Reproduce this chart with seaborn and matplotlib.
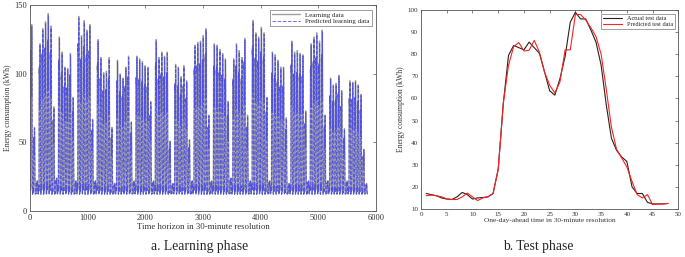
import numpy as np
import pandas as pd
import seaborn as sns
import matplotlib.pyplot as plt

sns.set_theme(style="white")
plt.rcParams['font.family'] = ['Liberation Serif', 'DejaVu Serif']

# ---- test phase (right panel) ----
test_slot = list(range(1, 49))
actual_test = [17, 16.5, 16, 15, 14.5, 14.3, 15.5, 17.5, 16.5, 14.5,
               15, 15.2, 15.5, 17, 28, 58, 79.5, 84, 83, 82,
               85.5, 83, 80.5, 72, 63.5, 61.5, 69, 79, 94.5, 99,
               96, 96, 91, 85.5, 75, 57, 42, 36.5, 33.5, 31.5,
               20, 17, 17, 13, 12.3, 12.3, 12.3, 12.5]
predicted_test = [16, 16.3, 16, 15.5, 14.6, 14.3, 14.3, 15.5, 17.2, 15.5,
                  13.8, 15, 15.5, 17, 28, 58, 75, 83.5, 85.3, 81.5,
                  81.8, 86.3, 81, 72, 66, 62.5, 67.5, 82, 82, 98,
                  98, 95.5, 92, 88, 80, 64, 47, 37, 33, 29,
                  22.5, 16.5, 15, 16.5, 12, 12.2, 12.3, 12.5]

# ---- learning phase (left panel): daily peak of each of the 122 days ----
# first three days (Fri, Sat, Sun), then 17 weeks Mon..Sun
daily_peak = [136, 61, 22,
              122, 133, 138, 144, 135, 76, 24,
              127, 116, 105, 104, 115, 83, 22,
              142, 128, 139, 132, 136, 67, 22,
              125, 112, 101, 102, 112, 61, 20,
              110, 100, 97, 105, 113, 65, 22,
              113, 111, 109, 106, 105, 80, 22,
              125, 112, 116, 113, 116, 51, 20,
              107, 105, 98, 106, 95, 52, 22,
              121, 123, 124, 128, 133, 70, 22,
              122, 121, 118, 115, 111, 80, 24,
              111, 122, 117, 112, 126, 70, 22,
              139, 130, 127, 134, 130, 83, 22,
              116, 114, 110, 105, 105, 68, 20,
              124, 116, 117, 115, 114, 73, 22,
              122, 127, 130, 124, 132, 70, 22,
              97, 92, 93, 99, 88, 60, 22,
              95, 94, 95, 92, 85, 45, 20]
night_base = 12.5

# each day follows the shape of the one-day test profile, scaled to its peak
a = np.array(actual_test)
p = np.array(predicted_test)
shape_a = (a - a.min()) / (a.max() - a.min())
shape_p = (p - a.min()) / (a.max() - a.min())
learn = np.concatenate([night_base + (pk - night_base) * shape_a for pk in daily_peak])
learn_pred = np.concatenate([night_base + (pk - night_base) * shape_p for pk in daily_peak])
df_learn = pd.DataFrame({'t': np.arange(len(learn)), 'actual': learn, 'pred': learn_pred})
df_test = pd.DataFrame({'t': test_slot, 'actual': actual_test, 'pred': predicted_test})

fig = plt.figure(figsize=(6.85, 2.57), dpi=100)
ax1 = fig.add_axes([0.0438, 0.179, 0.505, 0.80])
ax2 = fig.add_axes([0.6146, 0.1868, 0.3757, 0.774])

sns.lineplot(data=df_learn, x='t', y='actual', ax=ax1, color='#a0a0a0', lw=1.0,
             estimator=None, sort=False, label='Learning data')
sns.lineplot(data=df_learn, x='t', y='pred', ax=ax1, color='#3030ff', lw=0.7, alpha=0.7,
             linestyle='--', estimator=None, sort=False, label='Predicted learning data')
ax1.set_xlim(0, 6000)
ax1.set_ylim(0, 150)
ax1.set_xticks(np.arange(0, 6001, 1000))
ax1.set_yticks([0, 50, 100, 150])
ax1.set_xlabel('Time horizon in 30-minute resolution', fontsize=6.3, labelpad=1, color='#333333')
ax1.set_ylabel('Energy consumption (kWh)', fontsize=5.6, labelpad=2, color='#333333')
ax1.legend(loc='upper right', fontsize=5, frameon=True, fancybox=False, edgecolor='#555555',
           borderpad=0.3, handlelength=4, labelspacing=0.1, borderaxespad=0.6)

sns.lineplot(data=df_test, x='t', y='actual', ax=ax2, color='#222222', lw=0.8,
             estimator=None, label='Actual test data')
sns.lineplot(data=df_test, x='t', y='pred', ax=ax2, color='#ff2020', lw=0.8,
             estimator=None, label='Predicted test data')
ax2.set_xlim(0, 50)
ax2.set_ylim(10, 100)
ax2.set_xticks(np.arange(0, 51, 5))
ax2.set_yticks(np.arange(10, 101, 10))
ax2.set_xlabel('One-day-ahead time in 30-minute resolution', fontsize=5.3, labelpad=1, color='#333333')
ax2.set_ylabel('Energy consumption (kWh)', fontsize=5.5, labelpad=2, color='#333333')
ax2.legend(loc='upper right', fontsize=4.5, frameon=True, fancybox=False, edgecolor='#555555',
           borderpad=0.3, handlelength=3, labelspacing=0.1, borderaxespad=0.6)

for ax, fs in ((ax1, 6), (ax2, 5)):
    for s in ax.spines.values():
        s.set_color('#555555')
        s.set_linewidth(0.6)
    ax.tick_params(direction='in', length=2, width=0.5, labelsize=fs, colors='#555555',
                   labelcolor='#333333', top=True, right=True, pad=2)
    ax.legend_.get_frame().set_linewidth(0.5)

fig.text(0.292, 0.04, 'a. Learning phase', ha='center', va='center', fontsize=9.8)
fig.text(0.785, 0.04, 'b. Test phase', ha='center', va='center', fontsize=9.8)

fig.savefig('out.png', dpi=100)
